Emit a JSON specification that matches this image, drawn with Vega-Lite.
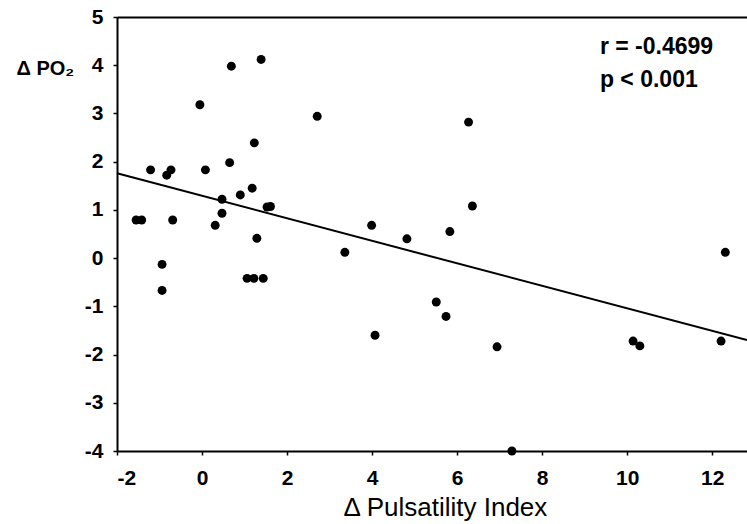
{
  "$schema": "https://vega.github.io/schema/vega-lite/v6.json",
  "width": 630,
  "height": 434,
  "autosize": {"type": "none"},
  "padding": {"left": 117, "top": 17, "right": 0, "bottom": 73},
  "background": "white",
  "config": {
    "view": {"stroke": null},
    "axis": {
      "domainColor": "black",
      "domainWidth": 2,
      "tickColor": "black",
      "tickWidth": 1.5,
      "tickSize": 4,
      "grid": false,
      "labelColor": "black",
      "titleColor": "black"
    }
  },
  "resolve": {"axis": {"x": "independent"}},
  "layer": [
    {
      "data": {"values": [
        {"pi": -1.55, "po2": 0.79}, {"pi": -1.42, "po2": 0.79}, {"pi": -1.21, "po2": 1.83},
        {"pi": -0.83, "po2": 1.72}, {"pi": -0.73, "po2": 1.83}, {"pi": -0.69, "po2": 0.79},
        {"pi": -0.05, "po2": 3.18}, {"pi": 0.08, "po2": 1.83}, {"pi": 0.69, "po2": 3.98},
        {"pi": 1.39, "po2": 4.12}, {"pi": 2.71, "po2": 2.94}, {"pi": 0.65, "po2": 1.98},
        {"pi": 1.23, "po2": 2.39}, {"pi": 1.18, "po2": 1.45}, {"pi": 0.90, "po2": 1.31},
        {"pi": 0.47, "po2": 1.22}, {"pi": 0.47, "po2": 0.93}, {"pi": 0.31, "po2": 0.68},
        {"pi": 1.53, "po2": 1.06}, {"pi": 1.61, "po2": 1.07}, {"pi": 1.29, "po2": 0.41},
        {"pi": -0.94, "po2": -0.13}, {"pi": -0.94, "po2": -0.67}, {"pi": 1.06, "po2": -0.42},
        {"pi": 1.22, "po2": -0.42}, {"pi": 1.44, "po2": -0.42}, {"pi": 3.36, "po2": 0.12},
        {"pi": 6.27, "po2": 2.82}, {"pi": 6.36, "po2": 1.08}, {"pi": 3.99, "po2": 0.68},
        {"pi": 5.83, "po2": 0.55}, {"pi": 4.82, "po2": 0.40}, {"pi": 5.51, "po2": -0.91},
        {"pi": 5.74, "po2": -1.21}, {"pi": 4.07, "po2": -1.60}, {"pi": 6.94, "po2": -1.84},
        {"pi": 12.31, "po2": 0.12}, {"pi": 10.14, "po2": -1.72}, {"pi": 10.30, "po2": -1.82},
        {"pi": 12.21, "po2": -1.72}, {"pi": 7.29, "po2": -4.0}
      ]},
      "mark": {"type": "point", "filled": true, "shape": "circle", "size": 80, "color": "black", "opacity": 1},
      "encoding": {
        "x": {
          "field": "pi", "type": "quantitative",
          "scale": {"domain": [-2, 12.82], "nice": false, "zero": false},
          "axis": {
            "orient": "bottom",
            "values": [-2, 0, 2, 4, 6, 8, 10, 12],
            "labelExpr": "datum.value < 0 ? '-' + abs(datum.value) : '' + datum.value",
            "labelFont": "Liberation Sans",
            "labelFontWeight": "bold",
            "labelFontSize": 21,
            "labelPadding": 12,
            "title": "Δ Pulsatility  Index",
            "titleFont": "Liberation Sans",
            "titleFontWeight": "normal",
            "titleFontSize": 26,
            "titleAlign": "left",
            "titleX": 226,
            "titleY": 64,
            "titleBaseline": "alphabetic"
          }
        },
        "y": {
          "field": "po2", "type": "quantitative",
          "scale": {"domain": [-4, 5], "nice": false, "zero": false},
          "axis": {
            "values": [-4, -3, -2, -1, 0, 1, 2, 3, 4, 5],
            "labelExpr": "datum.value < 0 ? '-' + abs(datum.value) : '' + datum.value",
            "labelFont": "Liberation Sans",
            "labelFontWeight": "bold",
            "labelFontSize": 21,
            "labelPadding": 10,
            "title": "Δ PO₂",
            "titleFont": "Liberation Sans",
            "titleFontWeight": "bold",
            "titleFontSize": 20,
            "titleAngle": 0,
            "titleAlign": "left",
            "titleBaseline": "middle",
            "titleX": -101,
            "titleY": 51
          }
        }
      }
    },
    {
      "data": {"values": [
        {"pi": -2, "po2": 1.76},
        {"pi": 12.82, "po2": -1.70}
      ]},
      "mark": {"type": "line", "color": "black", "strokeWidth": 2},
      "encoding": {
        "x": {
          "field": "pi", "type": "quantitative",
          "axis": {"orient": "top", "labels": false, "ticks": false, "title": null, "domain": true}
        },
        "y": {"field": "po2", "type": "quantitative"}
      }
    },
    {
      "data": {"values": [
        {"pi": 9.36, "po2": 4.38, "label": "r = -0.4699"},
        {"pi": 9.36, "po2": 3.7, "label": "p < 0.001"}
      ]},
      "mark": {"type": "text", "align": "left", "baseline": "middle", "font": "Liberation Sans", "fontWeight": "bold", "fontSize": 23, "color": "black"},
      "encoding": {
        "x": {"field": "pi", "type": "quantitative", "axis": null},
        "y": {"field": "po2", "type": "quantitative"},
        "text": {"field": "label"}
      }
    }
  ]
}
